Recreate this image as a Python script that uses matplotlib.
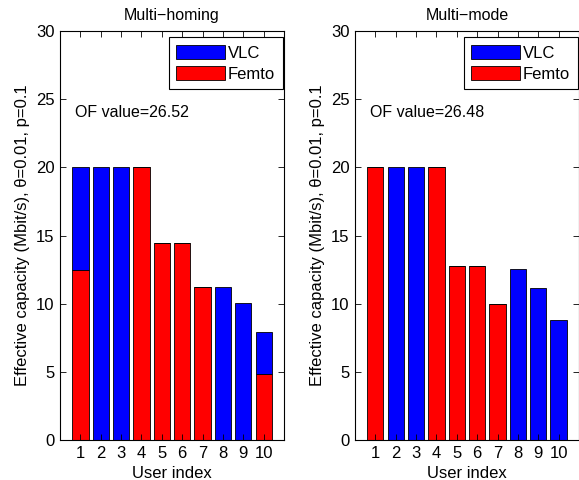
import matplotlib
matplotlib.use("Agg")
import matplotlib.pyplot as plt
import numpy as np

plt.rcParams['font.family'] = ['Liberation Sans', 'DejaVu Sans']
plt.rcParams['font.size'] = 12

users = np.arange(1, 11)

# Multi-homing: femto part at bottom, VLC part stacked on top
mh_femto = [12.45, 0, 0, 20, 14.45, 14.45, 11.25, 0, 0, 4.85]
mh_vlc = [7.55, 20, 20, 0, 0, 0, 0, 11.25, 10.05, 3.05]
mh_of = "OF value=26.52"

# Multi-mode: each user served by a single link
mm_femto = [20, 0, 0, 20, 12.8, 12.8, 9.95, 0, 0, 0]
mm_vlc = [0, 20, 20, 0, 0, 0, 0, 12.55, 11.15, 8.8]
mm_of = "OF value=26.48"

titles = ["Multi\u2212homing", "Multi\u2212mode"]
ylab = "Effective capacity (Mbit/s), \u03b8=0.01, p=0.1"

fig = plt.figure(figsize=(5.79, 4.8), dpi=100)
ax1 = fig.add_axes([0.1036, 0.0833, 0.387, 0.852])
ax2 = fig.add_axes([0.613, 0.0833, 0.387, 0.852])

panels = [(ax1, mh_femto, mh_vlc, mh_of, titles[0]),
          (ax2, mm_femto, mm_vlc, mm_of, titles[1])]

for ax, femto, vlc, of, title in panels:
    hf = ax.bar(users, femto, width=0.8, color='#ff0000', edgecolor='black', linewidth=0.6)
    hv = ax.bar(users, vlc, width=0.8, bottom=femto, color='#0000ff', edgecolor='black', linewidth=0.6)
    ax.set_xlim(0, 11)
    ax.set_ylim(0, 30)
    ax.set_xticks(users)
    ax.set_yticks([0, 5, 10, 15, 20, 25, 30])
    ax.tick_params(direction='in', top=True, right=True, length=4, width=0.6, pad=4)
    for s in ax.spines.values():
        s.set_linewidth(0.8)
    ax.set_title(title, fontsize=11.5, pad=8)
    ax.set_xlabel("User index", labelpad=4)
    ax.set_ylabel(ylab, labelpad=4)
    ax.text(0.75, 24.0, of, va='center', ha='left', fontsize=11.5)
    leg = ax.legend([hv, hf], ["VLC", "Femto"], loc='upper right',
                    bbox_to_anchor=(0.994, 0.985), borderaxespad=0,
                    fancybox=False, edgecolor='black', framealpha=1,
                    handlelength=2.9, handleheight=0.95, borderpad=0.45,
                    labelspacing=0.3, handletextpad=0.2)
    leg.get_frame().set_linewidth(0.8)

fig.savefig("out.png", dpi=100)
